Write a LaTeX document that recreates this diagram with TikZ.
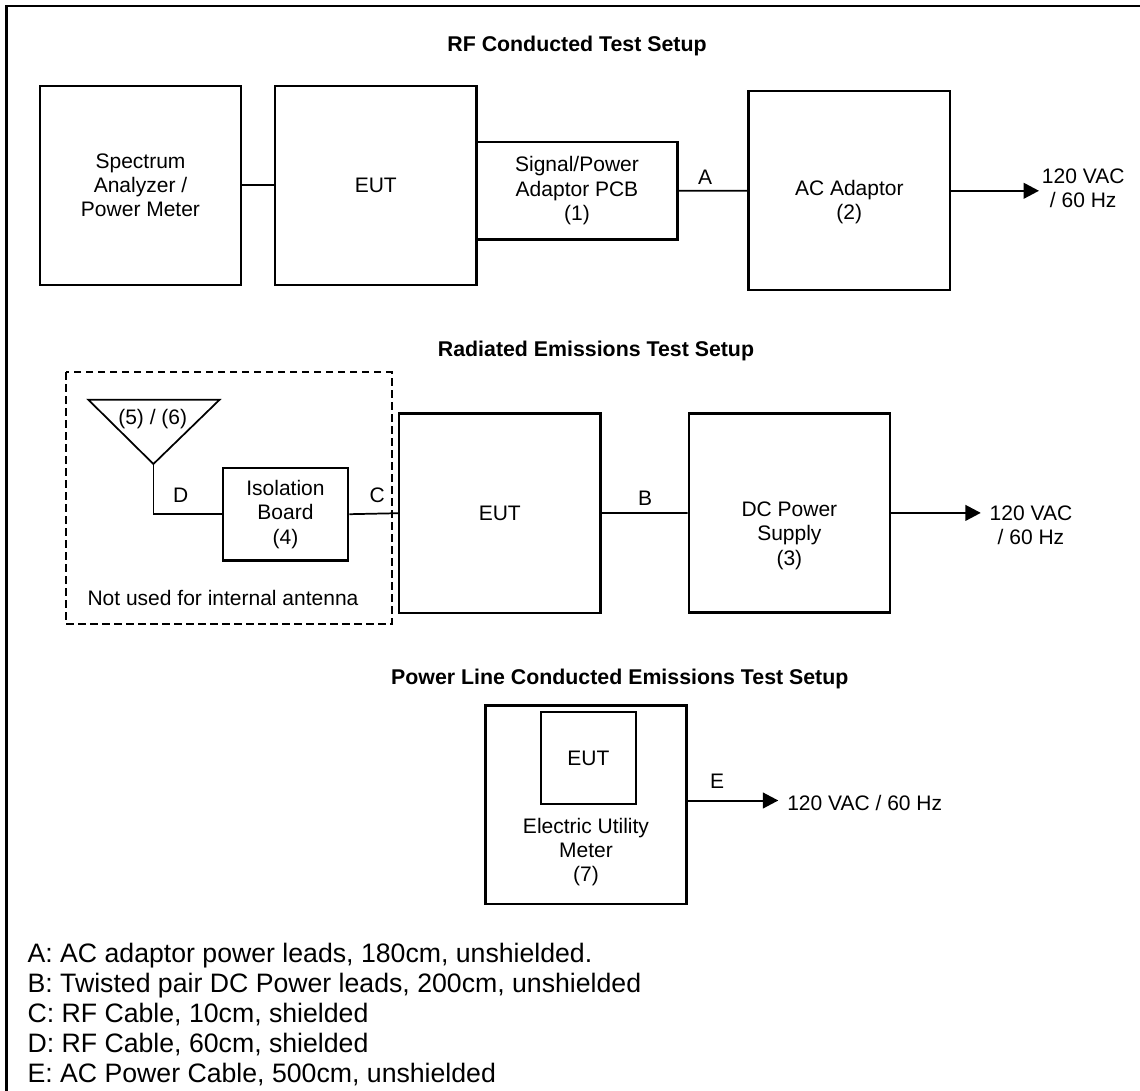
\documentclass[tikz,border=0pt]{standalone}
\usepackage{fontspec}
\setmainfont{Liberation Sans}
\usetikzlibrary{arrows.meta}

\begin{document}
\begin{tikzpicture}[x=0.75pt, y=-0.75pt,
  boxfont/.style={font=\fontsize{15.75}{18.3}\selectfont},
  bigbox/.style={draw, line width=1.8pt, minimum width=151pt, minimum height=149.25pt, inner sep=0pt, align=center, boxfont},
  smallbox/.style={draw, line width=1.7pt, inner sep=0pt, align=center, boxfont},
  wire/.style={line width=1.3pt},
  feed/.style={line width=1.5pt, -{Triangle[length=11.5pt,width=11.7pt]}},
  lbl/.style={boxfont, inner sep=0pt, anchor=base},
  heading/.style={font=\bfseries\fontsize{16}{19}\selectfont, inner sep=0pt, anchor=base},
  key/.style={font=\fontsize{20}{22.5}\selectfont, inner sep=0pt, anchor=base west}]
  \useasboundingbox (0,0) rectangle (1140,1091);
  % Outer frame, open at right and bottom.
  \draw[line width=1.8pt] (6.5,1091) -- (6.5,6.3) -- (1140,6.3);

  % RF conducted setup.
  \node[heading] (rftitle) at (577,51.6) {RF Conducted Test Setup};
  \node[bigbox] (sa) at (140.5,185.3) {Spectrum\\Analyzer /\\Power Meter};
  \node[bigbox] (eutrf) at (375.75,185.3) {EUT};
  \node[smallbox, minimum width=150.8pt, minimum height=73.3pt] (pcb) at (577,190.6) {Signal/Power\\Adaptor PCB\\(1)};
  \node[bigbox] (acad) at (849.3,190.8) {};
  \node[boxfont, align=center, inner sep=0pt] (acadtxt) at ([yshift=-8.25pt]acad.center) {AC Adaptor\\(2)};
  \coordinate (acout) at (1039,190.8);
  \draw[wire] (sa) -- (eutrf);
  \draw[wire] (pcb) -- (acad);
  \node[lbl] (la) at (705,184.1) {A};
  \draw[feed] (acad.east) -- (acout);
  \node[boxfont, align=center, anchor=west, inner sep=2pt] (acmains) at ([yshift=2pt]acout) {120 VAC\\/ 60 Hz};

  % Radiated emissions setup.
  \node[heading] (retitle) at (596,356.9) {Radiated Emissions Test Setup};
  \draw[line width=1.3pt, dash pattern=on 5.5pt off 3.5pt] (65.8,372.3) rectangle (391.9,623.9);
  \coordinate (ant) at (153.4,464);
  \draw[wire] (88.3,399.7) -- (219.6,399.7) -- (ant) -- cycle;
  \node[boxfont, inner sep=0pt] (anttxt) at (152.7,418.8) {(5) / (6)};
  \node[smallbox, minimum width=94pt, minimum height=69.6pt] (iso) at (285.5,514.2) {Isolation\\Board\\(4)};
  \node[bigbox] (eutre) at (499.8,513.2) {EUT};
  \node[bigbox] (dcps) at (789.4,512.9) {};
  \node[boxfont, align=center, inner sep=0pt] (dcpstxt) at ([yshift=-17pt]dcps.center) {DC Power\\Supply\\(3)};
  \coordinate (dcout) at (980.8,512.9);
  \draw[wire] (ant) |- (iso.west);
  \draw[wire] (iso.east) -- (eutre.west);
  \draw[wire] (eutre) -- (dcps);
  \node[lbl] (ld) at (180.7,502.8) {D};
  \node[lbl] (lc) at (377.3,502.8) {C};
  \node[lbl] (lb) at (645.2,505.2) {B};
  \draw[feed] (dcps.east) -- (dcout);
  \node[boxfont, align=center, anchor=west, inner sep=0pt] (dcmains) at ([xshift=6.5pt,yshift=-9.5pt]dcout) {120 VAC\\/ 60 Hz};
  \node[boxfont, inner sep=0pt, anchor=base] (note) at (223,605.3) {Not used for internal antenna};

  % Power line conducted emissions setup.
  \node[heading] (pltitle) at (619.8,684) {Power Line Conducted Emissions Test Setup};
  \node[bigbox, minimum height=148.8pt] (meter) at (586,804.8) {};
  \node[smallbox, minimum width=71.2pt, minimum height=69.4pt] (eutpl) at (588.35,758) {EUT};
  \node[boxfont, align=center, inner sep=0pt] (metertxt) at (586,852) {Electric Utility\\Meter\\(7)};
  \coordinate (plout) at (778.3,800.5);
  \draw[feed] (meter.east |- plout) -- (plout);
  \node[lbl] (le) at (717.2,788.9) {E};
  \node[boxfont, inner sep=0pt, anchor=base west] (plmains) at (787,810.1) {120 VAC / 60 Hz};

  % Cable key.
  \foreach \t [count=\i from 0] in {{A: AC adaptor power leads, 180cm, unshielded.},
      {B: Twisted pair DC Power leads, 200cm, unshielded},
      {C: RF Cable, 10cm, shielded},
      {D: RF Cable, 60cm, shielded},
      {E: AC Power Cable, 500cm, unshielded}}
    \node[key] (key\i) at (27.3,962.9+30*\i) {\t};
\end{tikzpicture}
\end{document}
